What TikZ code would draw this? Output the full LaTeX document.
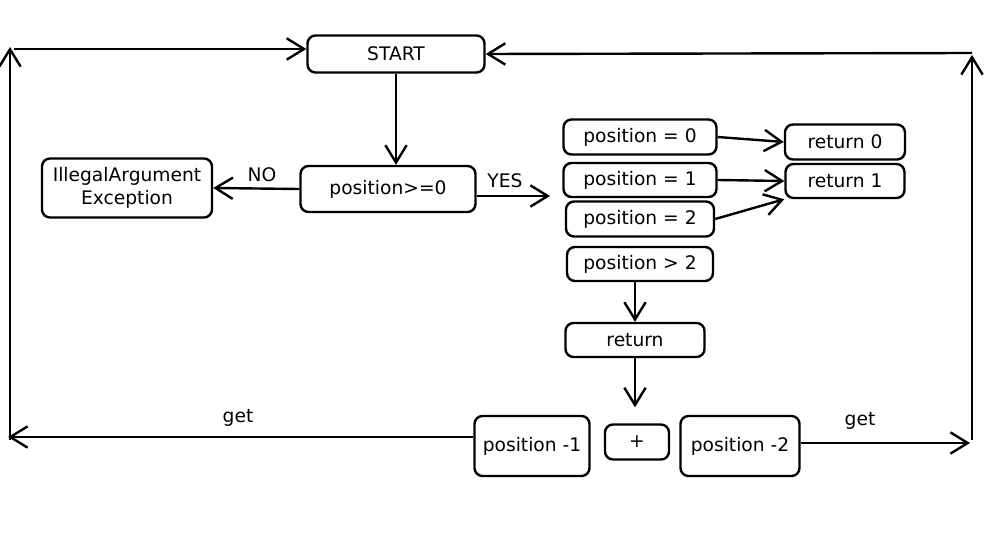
\documentclass[tikz,border=0pt]{standalone}
\usepackage{fontspec}
\setmainfont{DejaVu Sans}
\usetikzlibrary{arrows.meta}

\begin{document}
\begin{tikzpicture}[x=0.75pt, y=-0.75pt, line width=1.8pt,
  box/.style={draw, rounded corners=6pt, inner sep=0pt, align=center, font=\fontsize{14}{17}\selectfont},
  lbl/.style={font=\fontsize{14}{17}\selectfont},
  >={Straight Barb[length=13pt, width=16pt, line width=1.8pt]}]
\useasboundingbox (0,0) rectangle (994,534);
\node[box, minimum width=132.75pt, minimum height=27.75pt] (start) at (396,54){START};
\node[box, minimum width=131.25pt, minimum height=34.5pt] (ge0) at (388,189){position>=0};
\node[box, minimum width=127.5pt, minimum height=44.25pt] (ill) at (127,188){IllegalArgument\\Exception};
\node[box, minimum width=114.75pt, minimum height=26.25pt] (pos0) at (640,137){position = 0};
\node[box, minimum width=114.75pt, minimum height=25.5pt] (pos1) at (640,180){position = 1};
\node[box, minimum width=111pt, minimum height=26.25pt] (pos2) at (640,219){position = 2};
\node[box, minimum width=109.5pt, minimum height=25.5pt] (pgt2) at (640,264){position > 2};
\node[box, minimum width=90pt, minimum height=26.25pt] (ret0) at (845,142){return 0};
\node[box, minimum width=89.25pt, minimum height=25.5pt] (ret1) at (845,181){return 1};
\node[box, minimum width=104.25pt, minimum height=25.5pt] (ret) at (635,340){return};
\node[box, minimum width=86.25pt, minimum height=45pt] (posm1) at (532,446){position -1};
\node[box, minimum width=48pt, minimum height=26.25pt] (plus) at (637,442){+};
\node[box, minimum width=89.25pt, minimum height=45pt] (posm2) at (740,446){position -2};
\node[lbl] (no) at (262,175){NO};
\node[lbl] (yes) at (505,181){YES};
\node[lbl] (get1) at (238,418){get};
\node[lbl] (get2) at (860,421){get};
\coordinate (c1) at (14,49);
\coordinate (c2) at (10,440);
\coordinate (c3) at (10,47);
\coordinate (c4) at (8,437);
\coordinate (c5) at (970,443);
\coordinate (c6) at (972,440);
\coordinate (c7) at (972,55);
\coordinate (c8) at (972,53);
\coordinate (c9) at (550,196);
\draw[->](c1) -- (c1 -| start.west);
\draw[->](c2) -- (c3);
\draw[->](c4 -| posm1.west) -- (c4);
\draw[->](c5 -| posm2.east) -- (c5);
\draw[->](c6) -- (c7);
\draw[->](c8) -- (start.east);
\draw[->](start.south) -- (start.south |- ge0.north);
\draw[->](ge0.west) -- (ill.east);
\draw[->](c9 -| ge0.east) -- (c9);
\draw[->](pos0.east) -- (ret0.west);
\draw[->](pos1.east) -- (ret1.west);
\draw[->](pos2.east) -- (ret1.south west);
\draw[->](pgt2.south -| ret.north) -- (ret.north);
\draw[->, shorten >=12pt](ret.south) -- (ret.south |- plus.north);
\end{tikzpicture}
\end{document}
